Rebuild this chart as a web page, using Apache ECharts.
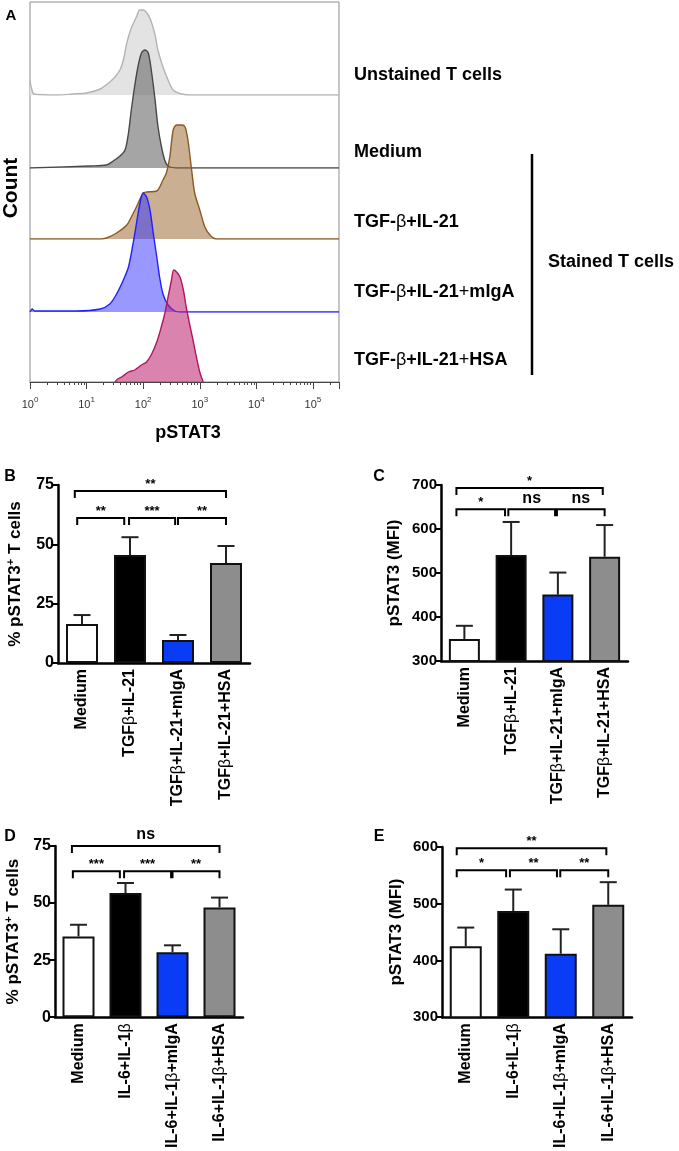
<!DOCTYPE html>
<html>
<head>
<meta charset="utf-8">
<script src="https://cdn.jsdelivr.net/npm/echarts@6/dist/echarts.min.js"></script>
<style>
html, body { margin: 0; padding: 0; background: #fff; }
#main { width: 679px; height: 1151px; }
</style>
</head>
<body>
<div id="main"></div>
<script>
// ---- panel A : flow histograms, [log10(pSTAT3), count] ----
var unstainedPts = [[0,14],[0.03,6],[0.07,1],[0.5,0],[0.76,1],[1.0,2],[1.24,6],[1.41,13],[1.5,18],[1.59,25],[1.65,35],[1.71,52],[1.79,67],[1.88,78],[1.94,85],[2.0,85],[2.09,80],[2.15,72],[2.21,60],[2.26,45],[2.35,28],[2.44,15],[2.53,5],[2.68,1],[2.85,0],[5.46,0]];
var mediumPts = [[0,0],[1.06,2],[1.35,3],[1.47,7],[1.59,12],[1.68,18],[1.74,35],[1.79,58],[1.85,82],[1.91,102],[1.97,115],[2.03,118],[2.09,115],[2.15,95],[2.21,68],[2.26,42],[2.32,22],[2.38,8],[2.44,2],[2.59,0],[5.46,0]];
var tgfPts = [[0,0],[1.24,0],[1.35,1],[1.53,6],[1.71,14],[1.79,22],[1.88,32],[2.0,46],[2.06,47],[2.24,48],[2.35,59],[2.41,66],[2.47,82],[2.53,109],[2.59,114],[2.68,114],[2.74,112],[2.79,99],[2.85,72],[2.91,46],[3.0,29],[3.09,12],[3.18,4],[3.29,0],[5.46,0]];
var migaPts = [[0,0],[0.04,3],[0.08,1],[0.82,1],[1.24,3],[1.41,8],[1.53,18],[1.65,32],[1.74,45],[1.82,68],[1.88,88],[1.94,108],[2.0,119],[2.06,115],[2.12,102],[2.18,78],[2.24,55],[2.29,35],[2.35,18],[2.44,7],[2.56,1],[2.65,0],[5.46,0]];
var hsaPts = [[1.5,0],[1.55,3],[1.62,5],[1.74,10],[1.85,12],[1.97,17],[2.06,20],[2.15,28],[2.24,40],[2.32,55],[2.38,68],[2.44,85],[2.5,102],[2.54,112],[2.59,110],[2.65,105],[2.71,92],[2.76,75],[2.82,58],[2.88,42],[2.94,25],[3.0,10],[3.06,0]];
var histLabels = ['Unstained T cells', 'Medium', 'TGF-{n|β}+IL-21', 'TGF-{n|β}+IL-21{n|+}mIgA', 'TGF-{n|β}+IL-21{n|+}HSA'];

// ---- panels B-E : bars (mean, SEM) ----
var tgfCats = ['Medium', 'TGFβ+IL-21', 'TGFβ+IL-21+mIgA', 'TGFβ+IL-21+HSA'];
var il6Cats = ['Medium', 'IL-6+IL-1β', 'IL-6+IL-1β+mIgA', 'IL-6+IL-1β+HSA'];
var bMean = [16.4, 45.5, 9.7, 42.1];
var bErr = [3.8, 7.5, 2.1, 7.2];
var cMean = [350, 541, 451, 537];
var cErr = [30, 75, 50, 72];
var dMean = [35.4, 54.4, 28.5, 48.1];
var dErr = [5.1, 4.4, 3.0, 4.3];
var eMean = [425, 487, 412, 498];
var eErr = [33, 38, 43, 40];
var barColors = ['#ffffff', '#000000', '#0a3cf6', '#8d8d8d'];

// significance brackets: [from, to, height, label]
var bBrackets = [[-0.1, 0.88, 61.1, '**'], [0.98, 1.94, 61.1, '***'], [2.0, 3.0, 61.1, '**'], [-0.15, 3.0, 72.5, '**']];
var cBrackets = [[-0.17, 0.87, 645, '*'], [0.94, 1.94, 645, 'ns'], [1.98, 3.0, 645, 'ns'], [-0.17, 2.96, 693, '*']];
var dBrackets = [[-0.12, 0.88, 63.9, '***'], [0.97, 1.97, 63.9, '***'], [2.0, 3.0, 63.9, '**'], [-0.14, 3.0, 75, 'ns']];
var eBrackets = [[-0.19, 0.85, 559, '*'], [0.93, 1.92, 559, '**'], [1.99, 3.0, 559, '**'], [-0.19, 2.96, 598, '**']];

var FONT = 'Liberation Sans, Arial, sans-serif';
var myChart = echarts.init(document.getElementById('main'));

// 直方图
var laneBase = [95, 168, 239, 312, 382];
var lanePts = [unstainedPts, mediumPts, tgfPts, migaPts, hsaPts];
var laneLine = ['#b4b4b4', '#484848', '#8a5a22', '#2020ff', '#b0185c'];
var laneFill = ['#e3e3e3', 'rgba(110,110,110,0.62)', 'rgba(150,95,40,0.5)', 'rgba(50,50,255,0.5)', 'rgba(190,30,110,0.55)'];

var grid = [], xAxis = [], yAxis = [], series = [];
lanePts.forEach(function (pts, i) {
    var last = i === 4;
    grid.push({ left: 30, top: 2, width: 309, height: laneBase[i] - 2, show: last, borderColor: '#8c8c8c', borderWidth: 1 });
    xAxis.push({
        type: 'log', logBase: 10, gridIndex: i, min: 1, max: Math.pow(10, 5.46), show: last,
        axisLine: { lineStyle: { color: '#444', width: 1 } },
        axisTick: { length: 7, lineStyle: { color: '#444' } },
        minorTick: { show: true, splitNumber: 9, length: 3, lineStyle: { color: '#444' } },
        splitLine: { show: false },
        axisLabel: {
            margin: 14, showMaxLabel: false, color: '#333',
            formatter: function (v) { return '{b|10}{s|' + Math.round(Math.log10(v)) + '}'; },
            rich: {
                b: { fontSize: 11, fontFamily: FONT, color: '#333' },
                s: { fontSize: 8, fontFamily: FONT, color: '#333', padding: [0, 0, 10, 0] }
            }
        }
    });
    yAxis.push({ type: 'value', gridIndex: i, min: 0, max: laneBase[i] - 2, show: false });
    series.push({
        type: 'line', xAxisIndex: i, yAxisIndex: i, z: 2 + i, smooth: 0.3, showSymbol: false, silent: true,
        data: pts.map(function (p) { return [Math.pow(10, p[0]), p[1]]; }),
        lineStyle: { color: laneLine[i], width: 1.4 },
        areaStyle: { color: laneFill[i], opacity: 1 }
    });
});

// 柱状图
function barPanel(pos, cats, mean, err, brackets, yMin, yMax, step, yName, nameGap, labelSize) {
    var gi = grid.length;
    var xi = xAxis.length;
    var yi = yAxis.length;
    grid.push({ left: pos[0], top: pos[1], width: pos[2], height: pos[3] });
    xAxis.push({
        type: 'category', gridIndex: gi, data: cats,
        axisLine: { onZero: false, lineStyle: { color: '#000', width: 2.5 } },
        axisTick: { alignWithLabel: true, length: 5, lineStyle: { color: '#000', width: 2 } },
        axisLabel: {
            rotate: 90, margin: 6, color: '#000', fontWeight: 'bold', fontSize: 16, fontFamily: FONT,
            formatter: function (v) { return v.replace(/β/g, '{n|β}'); },
            rich: { n: { fontWeight: 'normal', fontSize: 16, fontFamily: FONT, color: '#000' } }
        }
    });
    xAxis.push({ type: 'value', gridIndex: gi, min: -0.5, max: 3.5, show: false });
    yAxis.push({
        type: 'value', gridIndex: gi, min: yMin, max: yMax, interval: step,
        name: yName, nameLocation: 'middle', nameGap: nameGap,
        nameTextStyle: {
            fontWeight: 'bold', fontSize: 17, color: '#000', fontFamily: FONT,
            rich: { sup: { fontWeight: 'bold', fontSize: 11, color: '#000', fontFamily: FONT, padding: [0, 0, 9, 0] } }
        },
        axisLine: { show: true, onZero: false, lineStyle: { color: '#000', width: 2.5 } },
        axisTick: { show: true, length: 5, lineStyle: { color: '#000', width: 2 } },
        splitLine: { show: false },
        axisLabel: { color: '#000', fontWeight: 'bold', fontSize: labelSize, fontFamily: FONT, margin: 4 }
    });
    series.push({
        type: 'bar', xAxisIndex: xi, yAxisIndex: yi, barWidth: pos[4], z: 3,
        data: mean.map(function (m, i) {
            return { value: m, itemStyle: { color: barColors[i], borderColor: '#111', borderWidth: 2 } };
        })
    });
    // error bars
    series.push({
        type: 'custom', xAxisIndex: xi + 1, yAxisIndex: yi, z: 2, clip: false,
        data: mean.map(function (m, i) { return [i, m, m + err[i]]; }),
        renderItem: function (params, api) {
            var p0 = api.coord([api.value(0), api.value(1)]);
            var p1 = api.coord([api.value(0), api.value(2)]);
            var st = { stroke: '#222', lineWidth: 2 };
            return { type: 'group', children: [
                { type: 'line', shape: { x1: p0[0], y1: p0[1], x2: p1[0], y2: p1[1] }, style: st },
                { type: 'line', shape: { x1: p1[0] - 8.5, y1: p1[1], x2: p1[0] + 8.5, y2: p1[1] }, style: st }
            ] };
        }
    });
    // brackets
    series.push({
        type: 'custom', xAxisIndex: xi + 1, yAxisIndex: yi, z: 4, clip: false,
        data: brackets.map(function (b) { return [b[0], b[1], b[2]]; }),
        renderItem: function (params, api) {
            var a = api.coord([api.value(0), api.value(2)]);
            var b = api.coord([api.value(1), api.value(2)]);
            var lab = brackets[params.dataIndex][3];
            var ns = lab === 'ns';
            return { type: 'group', children: [
                { type: 'polyline', shape: { points: [[a[0], a[1] + 7], a, b, [b[0], b[1] + 7]] },
                  style: { stroke: '#000', lineWidth: 2, fill: null } },
                { type: 'text', x: (a[0] + b[0]) / 2, y: a[1] - (ns ? 3 : 0),
                  style: { text: lab, align: 'center', verticalAlign: 'bottom', fill: '#000',
                           font: (ns ? 'bold 16px ' : 'bold 13px ') + FONT } }
            ] };
        }
    });
}

var pctName = '% pSTAT3{sup|+} T cells';
var mfiName = 'pSTAT3 (MFI)';
barPanel([58, 485, 192, 178, 32], tgfCats, bMean, bErr, bBrackets, 0, 75, 25, pctName, 33, 16);
barPanel([441, 485, 187, 176, 31], tgfCats, cMean, cErr, cBrackets, 300, 700, 100, mfiName, 38, 15);
barPanel([55, 846, 188, 176, 32], il6Cats, dMean, dErr, dBrackets, 0, 75, 25, pctName, 32, 16);
barPanel([442, 847, 190, 176, 32], il6Cats, eMean, eErr, eBrackets, 300, 600, 100, mfiName, 37, 15);

// 文字
var graphic = [];
function txt(x, y, text, size, align, rotation) {
    return { type: 'text', x: x, y: y, rotation: rotation || 0, silent: true, style: {
        text: text, fill: '#000', font: 'bold ' + size + 'px ' + FONT, align: align || 'center', verticalAlign: 'middle',
        rich: { n: { fontWeight: 'normal', fontSize: size, fontFamily: FONT, fill: '#000' } }
    } };
}
var labelY = [75, 152, 222, 292, 360];
histLabels.forEach(function (t, i) {
    graphic.push(txt(354, labelY[i], t, 18, 'left'));
});
graphic.push(txt(548, 262, 'Stained T cells', 18, 'left'));
graphic.push({ type: 'line', silent: true, shape: { x1: 532, y1: 154, x2: 532, y2: 375 }, style: { stroke: '#000', lineWidth: 2.5 } });
graphic.push(txt(11, 188, 'Count', 21, 'center', Math.PI / 2));
graphic.push(txt(188, 433, 'pSTAT3', 18));
graphic.push(txt(11, 16, 'A', 15));
graphic.push(txt(10, 477, 'B', 16));
graphic.push(txt(379, 477, 'C', 16));
graphic.push(txt(10, 837, 'D', 16));
graphic.push(txt(379, 837, 'E', 16));

var option = {
    animation: false,
    textStyle: { fontFamily: FONT },
    grid: grid,
    xAxis: xAxis,
    yAxis: yAxis,
    series: series,
    graphic: graphic
};
myChart.setOption(option);
</script>
</body>
</html>
